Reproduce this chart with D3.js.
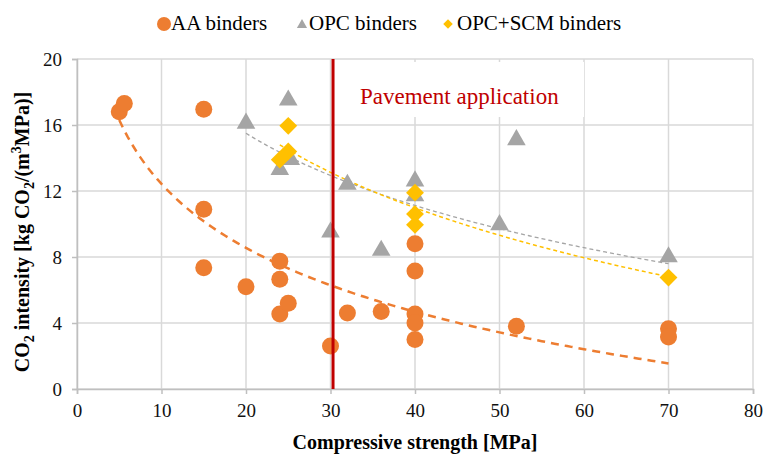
<!DOCTYPE html>
<html>
<head>
<meta charset="utf-8">
<script src="https://cdn.jsdelivr.net/npm/d3@7"></script>
<style>
  body { margin: 0; background: #fff; }
</style>
</head>
<body>
<div id="chart"></div>
<script>
// AA binders (orange circles)
var aaX = [5, 5.6, 15, 15, 15, 20, 24, 24, 24, 25, 30, 32, 36, 40, 40, 40, 40, 40, 52, 70, 70];
var aaY = [16.8, 17.3, 16.95, 10.9, 7.35, 6.2, 7.75, 6.65, 4.55, 5.2, 2.6, 4.6, 4.7, 8.8, 7.15, 4.55, 4.0, 3.0, 3.8, 3.65, 3.15];
// OPC binders (grey triangles)
var opcX = [20, 25, 24, 25.3, 32, 30, 36, 40, 40, 52, 50, 70];
var opcY = [16.1, 17.5, 13.3, 13.9, 12.4, 9.5, 8.4, 12.6, 11.7, 15.1, 9.95, 8.0];
// OPC+SCM binders (yellow diamonds)
var scmX = [25, 25, 24, 40, 40, 40, 70];
var scmY = [15.95, 14.4, 13.9, 11.9, 10.6, 9.95, 6.75];

// logarithmic trendlines y = a + b ln(x)
var trendAA = {a: 25.3, b: -5.59, from: 5, to: 70};
var trendOPC = {a: 34.4, b: -6.31, from: 20, to: 70};
var trendSCM = {a: 38.54, b: -7.47, from: 24, to: 70};

var xTicks = [0, 10, 20, 30, 40, 50, 60, 70, 80];
var yTicks = [0, 4, 8, 12, 16, 20];
var pavementX = 30.3;

var FONT = "'Liberation Serif', 'Times New Roman', Tinos, 'DejaVu Serif', serif";

var W = 764, H = 454;
var svg = d3.select("#chart").append("svg")
  .attr("width", W).attr("height", H)
  .style("font-family", FONT);

var x = d3.scaleLinear().domain([0, 80]).range([77, 753]);
var y = d3.scaleLinear().domain([0, 20]).range([389, 59]);

// gridlines
svg.append("g").selectAll("line.h").data(yTicks).enter().append("line")
  .attr("x1", x(0)).attr("x2", x(80))
  .attr("y1", function(d){ return y(d); }).attr("y2", function(d){ return y(d); })
  .style("stroke", "#d9d9d9").style("stroke-width", 1.5);
svg.append("g").selectAll("line.v").data(xTicks).enter().append("line")
  .attr("x1", function(d){ return x(d); }).attr("x2", function(d){ return x(d); })
  .attr("y1", y(0)).attr("y2", y(20))
  .style("stroke", "#d9d9d9").style("stroke-width", 1.5);

// axes
var xAxis = svg.append("g")
  .attr("transform", "translate(0," + y(0) + ")")
  .call(d3.axisBottom(x).tickValues(xTicks).tickSize(5).tickPadding(10));
var yAxis = svg.append("g")
  .attr("transform", "translate(" + x(0) + ",0)")
  .call(d3.axisLeft(y).tickValues(yTicks).tickSize(5).tickPadding(10));
[xAxis, yAxis].forEach(function(g){
  g.attr("font-family", null).attr("font-size", null);
  g.select(".domain").style("stroke", "#bfbfbf").style("stroke-width", 1.5);
  g.selectAll(".tick line").style("stroke", "#bfbfbf").style("stroke-width", 1.5);
  g.selectAll("text").style("font-family", FONT)
    .style("font-size", "19px").style("fill", "#111");
});

// trendlines
function trendPts(t) {
  return d3.range(t.from, t.to + 0.001, 0.5).map(function(v){ return [v, t.a + t.b * Math.log(v)]; });
}
var line = d3.line().x(function(d){ return x(d[0]); }).y(function(d){ return y(d[1]); });
svg.append("path").datum(trendPts(trendOPC)).attr("d", line)
  .style("fill", "none").style("stroke", "#a5a5a5").style("stroke-width", 1.3).style("stroke-dasharray", "4,3");
svg.append("path").datum(trendPts(trendSCM)).attr("d", line)
  .style("fill", "none").style("stroke", "#ffc000").style("stroke-width", 1.5).style("stroke-dasharray", "4,3");
svg.append("path").datum(trendPts(trendAA)).attr("d", line)
  .style("fill", "none").style("stroke", "#ed7d31").style("stroke-width", 2.5).style("stroke-dasharray", "8,6");

// markers
var tri = d3.symbol().type(d3.symbolTriangle).size(150);
var dia = d3.symbol().type(d3.symbolSquare).size(160);

svg.append("g").selectAll("path").data(opcX).enter().append("path")
  .attr("d", tri)
  .attr("transform", function(d, i){ return "translate(" + x(d) + "," + y(opcY[i]) + ")"; })
  .style("fill", "#a5a5a5");
svg.append("g").selectAll("circle").data(aaX).enter().append("circle")
  .attr("cx", function(d){ return x(d); })
  .attr("cy", function(d, i){ return y(aaY[i]); })
  .attr("r", 8.5)
  .style("fill", "#ed7d31");
svg.append("g").selectAll("path").data(scmX).enter().append("path")
  .attr("d", dia)
  .attr("transform", function(d, i){ return "translate(" + x(d) + "," + y(scmY[i]) + ") rotate(45)"; })
  .style("fill", "#ffc000");

// pavement line + label
svg.append("line")
  .attr("x1", x(pavementX)).attr("x2", x(pavementX))
  .attr("y1", y(20)).attr("y2", y(0))
  .style("stroke", "#c00000").style("stroke-width", 3);
svg.append("rect").attr("x", 346).attr("y", 62).attr("width", 238).attr("height", 55).style("fill", "#fff");
svg.append("text").attr("x", 360).attr("y", 104)
  .style("font-size", "23px").style("fill", "#c00000")
  .text("Pavement application");

// legend
var legend = svg.append("g").attr("transform", "translate(0,24)");
legend.append("circle").attr("cx", 164).attr("cy", 0).attr("r", 7).style("fill", "#ed7d31");
legend.append("text").attr("x", 171).attr("y", 6).style("font-size", "21px").text("AA binders");
legend.append("path").attr("d", d3.symbol().type(d3.symbolTriangle).size(45))
  .attr("transform", "translate(302,1)").style("fill", "#a5a5a5");
legend.append("text").attr("x", 309).attr("y", 6).style("font-size", "21px").text("OPC binders");
legend.append("path").attr("d", d3.symbol().type(d3.symbolSquare).size(45))
  .attr("transform", "translate(448,0) rotate(45)").style("fill", "#ffc000");
legend.append("text").attr("x", 457).attr("y", 6).style("font-size", "21px").text("OPC+SCM binders");

// axis titles
svg.append("text").attr("x", 415).attr("y", 449).attr("text-anchor", "middle")
  .style("font-size", "20px").style("font-weight", "bold")
  .text("Compressive strength [MPa]");

var yt = svg.append("text").attr("text-anchor", "middle")
  .attr("transform", "translate(29,232) rotate(-90)")
  .style("font-size", "20px").style("font-weight", "bold");
yt.append("tspan").text("CO");
yt.append("tspan").attr("dy", 5).style("font-size", "14px").text("2");
yt.append("tspan").attr("dy", -5).text(" intensity [kg CO");
yt.append("tspan").attr("dy", 5).style("font-size", "14px").text("2");
yt.append("tspan").attr("dy", -5).text("/(m");
yt.append("tspan").attr("dy", -8).style("font-size", "14px").text("3");
yt.append("tspan").attr("dy", 8).text("MPa)]");
</script>
</body>
</html>
